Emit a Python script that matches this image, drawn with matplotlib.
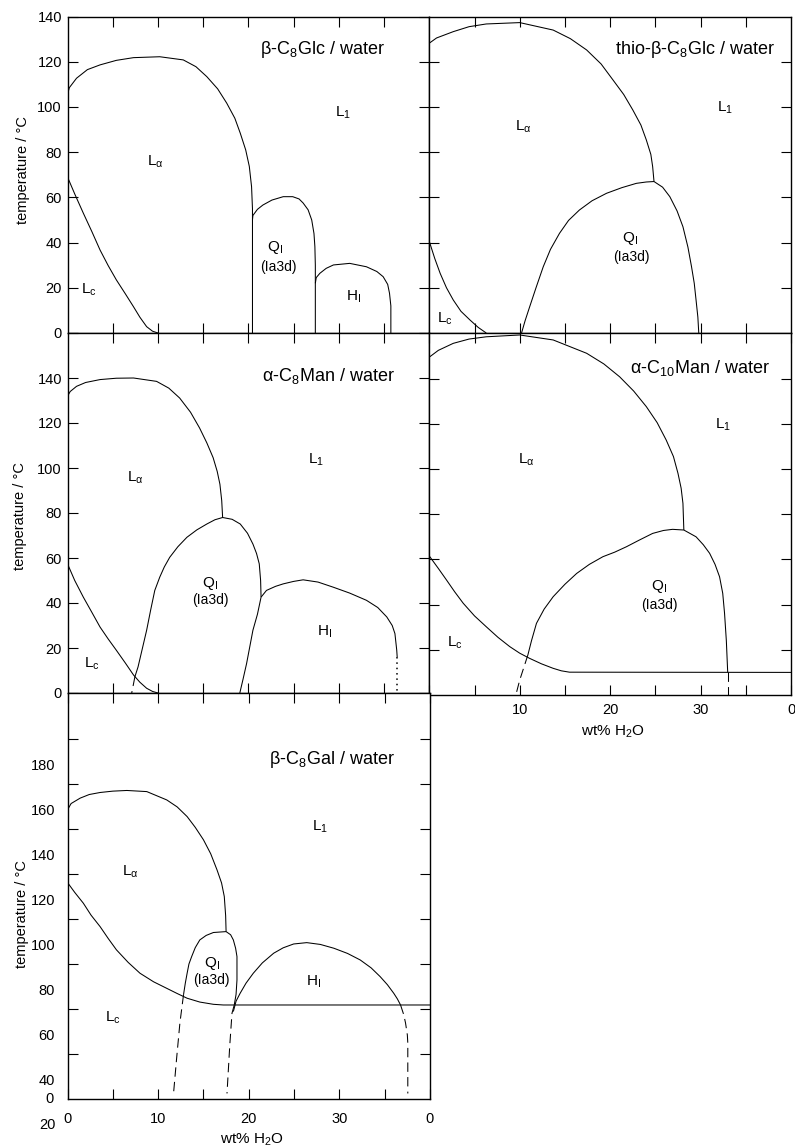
import numpy as np
import matplotlib
matplotlib.use("Agg")
import matplotlib.pyplot as plt
from matplotlib.ticker import FixedLocator, FixedFormatter, NullFormatter

plt.rcParams['font.family'] = ['Liberation Sans', 'DejaVu Sans']
plt.rcParams['mathtext.fontset'] = 'custom'
plt.rcParams['mathtext.rm'] = 'Liberation Sans'
plt.rcParams['mathtext.it'] = 'Liberation Sans:italic'
plt.rcParams['mathtext.bf'] = 'Liberation Sans:bold'

# ---------------- beta-C8Glc / water ----------------
glc_la_x = [0, 0.2, 1.0, 2.2, 3.6, 5.4, 7.3, 10.2, 12.8, 14.2, 15.4, 16.6, 17.6, 18.5, 19.1, 19.7, 20.1, 20.35, 20.45, 20.45]
glc_la_t = [105.5, 108.5, 112.7, 116.5, 118.6, 120.6, 121.8, 122.2, 120.8, 117.8, 113.4, 108, 101.7, 95, 88.4, 81, 73.7, 64.7, 55, 0]
glc_lc_x = [0, 0.8, 1.75, 2.7, 3.6, 4.5, 5.4, 6.4, 7.3, 8.0, 8.75, 9.4, 10.0]
glc_lc_t = [69, 61.5, 53, 44.8, 36.7, 29.8, 23.5, 17.3, 11.6, 7, 2.8, 0.8, 0]
glc_q_x = [20.45, 20.5, 21.0, 21.6, 22.6, 23.85, 24.9, 25.6, 26.05, 26.6, 27.0, 27.25, 27.35, 27.4, 27.4]
glc_q_t = [50, 52, 54.7, 56.6, 58.8, 60.3, 60.3, 59.3, 57.5, 54.5, 50, 44, 38.2, 30, 0]
glc_h_x = [27.4, 27.5, 27.9, 28.6, 29.4, 31.2, 33.05, 34.2, 34.9, 35.4, 35.6, 35.75, 35.75]
glc_h_t = [22, 24.5, 26.4, 28.6, 30.1, 30.8, 29.3, 27.2, 24.9, 21.5, 17.6, 12, 0]

# ---------------- thio-beta-C8Glc / water ----------------
thio_la_x = [0, 0.8, 2.65, 4.4, 6.3, 10.0, 13.7, 15.6, 17.4, 19.0, 20.3, 21.5, 22.5, 23.4, 24.0, 24.5, 24.7, 24.85]
thio_la_t = [128.2, 130.5, 133.3, 135.5, 136.7, 137.3, 134, 130.2, 125.2, 119, 112, 105.5, 98.7, 92, 85.4, 79, 73.6, 67]
thio_q_x = [10.2, 10.6, 11.1, 11.8, 12.6, 13.4, 14.4, 15.4, 16.6, 18.0, 19.6, 21.3, 22.9, 24.0, 24.85,
            25.8, 26.6, 27.4, 28.05, 28.6, 29.0, 29.3, 29.5, 29.7, 29.8]
thio_q_t = [0, 5.5, 11.6, 20, 29.3, 37, 44.1, 49.8, 54.4, 58.5, 61.8, 64.3, 66.2, 66.8, 67,
            64.5, 60.3, 54, 47, 38, 29.3, 22, 14.6, 7, 0]
thio_lc_x = [0, 0.6, 1.2, 1.9, 2.65, 3.5, 4.5, 5.4, 6.3]
thio_lc_t = [40.5, 33, 26.4, 20, 14.6, 9.6, 5.75, 2.5, 0]

# ---------------- alpha-C8Man / water ----------------
man8_la_x = [0, 0.3, 1.0, 2.0, 3.6, 5.4, 7.3, 9.85, 11.2, 12.4, 13.6, 14.6, 15.4, 16.1, 16.55, 16.85, 17.05, 17.15]
man8_la_t = [131.9, 134, 136.3, 138, 139.3, 139.9, 140, 138.5, 135.5, 131.1, 124.8, 117.8, 111.2, 104.6, 98.5, 92.8, 85.5, 78]
man8_q_x = [7.45, 7.8, 8.75, 9.2, 9.65, 10.2, 10.7, 11.3, 12.2, 13.2, 14.3, 15.4, 16.3, 17.15,
            18.2, 19.1, 19.9, 20.5, 20.9, 21.2, 21.35, 21.4]
man8_q_t = [7.2, 11.6, 27.9, 37, 45.6, 51.5, 56, 60.3, 65, 69.2, 72.5, 75.1, 77, 78,
            77.2, 75.1, 71, 66.2, 62, 57.4, 50, 42.6]
man8_qfoot_x = [7.45, 7.1]
man8_qfoot_t = [7.2, 0]
man8_hq_x = [21.4, 21.0, 20.5, 19.8, 19.4, 19.05]
man8_hq_t = [42.6, 35, 27.9, 13.1, 6, 0]
man8_h_x = [21.4, 22.0, 23.0, 23.85, 25.0, 26.05, 27.7, 29.4, 31.2, 33.05, 34.3, 35.3, 35.9, 36.2, 36.4, 36.45]
man8_h_t = [42.6, 45.6, 47.4, 48.5, 49.6, 50.3, 49.3, 47.0, 44.4, 41.2, 38, 33.8, 30, 26.4, 19, 16]
man8_hfoot_x = [36.45, 36.45]
man8_hfoot_t = [16, 0]
man8_lc_x = [0, 0.8, 1.75, 2.7, 3.6, 4.5, 5.4, 6.4, 7.3, 8.0, 8.75, 9.4, 10.0]
man8_lc_t = [57.4, 50, 42.6, 35.8, 29.3, 24, 19, 13.3, 8.0, 4.8, 2.1, 0.7, 0]

# ---------------- alpha-C10Man / water ----------------
man10_la_x = [0, 1.0, 2.65, 4.4, 6.3, 10.0, 13.7, 17.4, 19.3, 21.05, 22.6, 24.0, 25.2, 26.2, 27.0, 27.5, 27.85, 28.05, 28.15]
man10_la_t = [149.5, 152.5, 155.6, 157.5, 158.5, 159.3, 157.1, 151.2, 146.5, 140.8, 134.5, 127.6, 120.5, 112.8, 105.5, 98.1, 91.5, 84.8, 73]
man10_q_x = [10.9, 11.3, 11.85, 12.7, 13.7, 15.0, 16.3, 17.7, 19.2, 20.5, 21.8, 23.2, 24.7, 25.9, 26.9, 28.15,
             29.5, 30.3, 31.0, 31.6, 32.1, 32.45, 32.65, 32.85, 33.0]
man10_q_t = [17.7, 24, 31.7, 38, 43.5, 49, 53.8, 57.8, 61.2, 63.2, 65.6, 68.5, 71.5, 72.8, 73.3, 73,
             70.0, 66.5, 62.7, 57.8, 52.3, 45, 36.2, 24, 10]
man10_qleft_x = [10.9, 10.0, 9.57]
man10_qleft_t = [17.7, 6.6, 0]
man10_qright_x = [33.0, 33.0]
man10_qright_t = [10, 0]
man10_lc_x = [0, 1.0, 1.9, 2.8, 3.75, 5.0, 6.3, 7.6, 8.9, 10.0, 11.1, 12.4, 13.7, 14.6, 15.5, 40]
man10_lc_t = [61.5, 56, 50.9, 45.7, 40.6, 35, 30.2, 25.5, 21.4, 18.5, 16.2, 13.8, 11.8, 10.7, 10.1, 10]

# ---------------- beta-C8Gal / water ----------------
gal_la_x = [0, 0.4, 1.4, 2.4, 3.6, 5.0, 6.55, 8.75, 10.95, 12.1, 13.2, 14.1, 15.0, 15.8, 16.5, 17.0, 17.3, 17.45, 17.5]
gal_la_t = [160, 162.8, 165.2, 166.8, 167.7, 168.3, 168.6, 168.1, 164.4, 161.3, 157, 152.2, 146.7, 140.5, 133.3, 127.5, 121.5, 113, 105.9]
gal_q_x = [12.8, 13.0, 13.2, 13.4, 13.7, 14.1, 14.6, 15.3, 16.1, 17.5, 18.0, 18.3, 18.55, 18.7, 18.7, 18.6, 18.4]
gal_q_t = [77.8, 83, 87.4, 91.5, 94.8, 98.8, 102.2, 104.2, 105.5, 105.9, 104.5, 102.2, 98.5, 94.8, 84.4, 78, 73.3]
gal_qleft_x = [12.8, 12.4, 12.05, 11.7]
gal_qleft_t = [77.8, 65.2, 50, 34]
gal_qright_x = [18.4, 18.15, 17.9, 17.6]
gal_qright_t = [73.3, 69.6, 55, 34]
gal_lc_x = [0, 0.8, 1.75, 2.6, 3.6, 4.5, 5.4, 6.7, 8.0, 9.5, 10.95, 12.1, 13.2, 14.6, 16.1, 17.2, 18.1, 40]
gal_lc_t = [127.7, 123.3, 118.5, 113.2, 108.1, 102.8, 97.8, 92.2, 87.4, 83.6, 80.7, 78.4, 76.3, 74.6, 73.6, 73.3, 73.3, 73.3]
gal_h_x = [18.3, 18.6, 19.05, 19.7, 20.5, 21.5, 22.75, 23.8, 24.95, 26.4, 27.9, 29.4, 30.9, 32.3, 33.5, 34.5, 35.3, 36.0, 36.4, 36.75]
gal_h_t = [70.4, 75, 78.5, 83, 87.4, 92, 96.3, 98.7, 100.4, 101, 100.2, 98.5, 96.2, 93.3, 89.8, 85.9, 82.3, 78.5, 76, 73.3]
gal_hright_x = [36.75, 37.1, 37.3, 37.5, 37.55, 37.55]
gal_hright_t = [73.3, 69, 65.3, 60, 56.4, 34]

# tick labels
temp_labels_140 = [0, 20, 40, 60, 80, 100, 120, 140]
temp_labels_gal = [40, 60, 80, 100, 120, 140, 160, 180]
wt_ticks = [0, 5, 10, 15, 20, 25, 30, 35, 40]
wt_labels_man10 = ["", "", "10", "", "20", "", "30", "", "0"]
wt_labels_gal = ["0", "", "10", "", "20", "", "30", "", "0"]

W, H = 795, 1148
fig = plt.figure(figsize=(W / 100, H / 100), dpi=100)


def place(l, r, t, b):
    return [l / W, 1 - b / H, (r - l) / W, (b - t) / H]


LW = 0.75
FRAME = 1.0


def frame(ax, ymax, ymin=0, yticks=None):
    ax.set_xlim(0, 40)
    ax.set_ylim(ymin, ymax)
    for s in ax.spines.values():
        s.set_linewidth(FRAME)
    ax.xaxis.set_major_locator(FixedLocator(np.arange(5, 40, 5)))
    if yticks is not None:
        ax.yaxis.set_major_locator(FixedLocator(yticks))
    ax.tick_params(which='both', direction='in', length=7, width=0.8,
                   top=True, right=True, labelsize=10.5)
    ax.xaxis.set_major_formatter(NullFormatter())
    ax.yaxis.set_major_formatter(NullFormatter())


def wt_axis_labels(ax, labels, pad):
    ax.xaxis.set_major_locator(FixedLocator(wt_ticks))
    ax.xaxis.set_major_formatter(FixedFormatter(labels))
    ax.tick_params(axis='x', pad=pad)


def curve(ax, x, t, **kw):
    style = dict(color='black', lw=LW)
    style.update(kw)
    ax.plot(x, t, solid_capstyle='butt', **style)


def dashed(ax, x, t):
    curve(ax, x, t, ls=(0, (9, 5)))


def phase(ax, x, t, s, size=11):
    ax.text(x, t, s, ha='center', va='center', fontsize=size)


def title(ax, x, t, s):
    ax.text(x, t, s, ha='center', va='center', fontsize=13)


def temp_axis_labels(ax, values, pad):
    ax.set_yticks(values)
    ax.set_yticklabels([str(v) for v in values])
    ax.tick_params(axis='y', pad=pad)


# ---- Panel: beta-C8Glc ----
ax1 = fig.add_axes(place(67.5, 429.3, 16.5, 333))
frame(ax1, 140, yticks=np.arange(20, 141, 20))
temp_axis_labels(ax1, temp_labels_140, 4)
curve(ax1, glc_la_x, glc_la_t)
curve(ax1, glc_lc_x, glc_lc_t)
curve(ax1, glc_q_x, glc_q_t)
curve(ax1, glc_h_x, glc_h_t)
title(ax1, 28.2, 125.2, r"β-C$_8$Glc / water")
phase(ax1, 30.5, 97.3, r"L$_\mathrm{1}$")
phase(ax1, 9.7, 75.7, r"L$_\mathrm{\alpha}$")
phase(ax1, 2.4, 19, r"L$_\mathrm{c}$")
phase(ax1, 22.9, 37.6, r"Q$_\mathrm{I}$")
phase(ax1, 23.3, 29.2, "(Ia3d)", 10)
phase(ax1, 31.6, 16, r"H$_\mathrm{I}$")

# ---- Panel: thio-beta-C8Glc ----
ax2 = fig.add_axes(place(429.3, 791, 16.5, 333))
frame(ax2, 140, yticks=np.arange(20, 140, 20))
curve(ax2, thio_la_x, thio_la_t)
curve(ax2, thio_q_x, thio_q_t)
curve(ax2, thio_lc_x, thio_lc_t)
title(ax2, 29.4, 125.2, r"thio-β-C$_8$Glc / water")
phase(ax2, 32.7, 99.5, r"L$_\mathrm{1}$")
phase(ax2, 10.35, 91, r"L$_\mathrm{\alpha}$")
phase(ax2, 22.2, 42, r"Q$_\mathrm{I}$")
phase(ax2, 22.4, 33.8, "(Ia3d)", 10)
phase(ax2, 1.75, 6.2, r"L$_\mathrm{c}$")

# ---- Panel: alpha-C8Man ----
ax3 = fig.add_axes(place(67.5, 429.3, 333, 693))
frame(ax3, 160, yticks=np.arange(20, 161, 20))
temp_axis_labels(ax3, temp_labels_140, 4)
ax3.set_yticks(np.arange(20, 161, 20), minor=True)
curve(ax3, man8_la_x, man8_la_t)
curve(ax3, man8_q_x, man8_q_t)
dashed(ax3, man8_qfoot_x, man8_qfoot_t)
curve(ax3, man8_hq_x, man8_hq_t)
curve(ax3, man8_h_x, man8_h_t)
curve(ax3, man8_hfoot_x, man8_hfoot_t, ls=(0, (1, 2.5)), lw=1.1)
curve(ax3, man8_lc_x, man8_lc_t)
title(ax3, 28.8, 140.7, r"α-C$_8$Man / water")
phase(ax3, 27.5, 103.8, r"L$_\mathrm{1}$")
phase(ax3, 7.45, 95.7, r"L$_\mathrm{\alpha}$")
phase(ax3, 15.75, 48.5, r"Q$_\mathrm{I}$")
phase(ax3, 15.75, 41.2, "(Ia3d)", 10)
phase(ax3, 28.45, 27.1, r"H$_\mathrm{I}$")
phase(ax3, 2.7, 13.1, r"L$_\mathrm{c}$")

# ---- Panel: alpha-C10Man ----
ax4 = fig.add_axes(place(429.3, 791, 333.4, 695))
frame(ax4, 160, yticks=np.arange(20, 160, 20))
wt_axis_labels(ax4, wt_labels_man10, 6)
curve(ax4, man10_la_x, man10_la_t)
curve(ax4, man10_q_x, man10_q_t)
dashed(ax4, man10_qleft_x, man10_qleft_t)
dashed(ax4, man10_qright_x, man10_qright_t)
curve(ax4, man10_lc_x, man10_lc_t)
title(ax4, 29.9, 144.5, r"α-C$_{10}$Man / water")
phase(ax4, 32.45, 119.5, r"L$_\mathrm{1}$")
phase(ax4, 10.75, 104, r"L$_\mathrm{\alpha}$")
phase(ax4, 25.45, 48, r"Q$_\mathrm{I}$")
phase(ax4, 25.45, 39.8, "(Ia3d)", 10)
phase(ax4, 2.85, 22.9, r"L$_\mathrm{c}$")
fig.text(613 / W, 1 - 732 / H, r"wt% H$_2$O", ha='center', va='center', fontsize=11)

# ---- Panel: beta-C8Gal ----
ax5 = fig.add_axes(place(67.5, 430, 693, 1099.3))
frame(ax5, 211.9, ymin=31.4)
ax5.yaxis.set_major_locator(FixedLocator(temp_labels_gal))
ax5.yaxis.set_major_formatter(FixedFormatter([str(v) for v in temp_labels_gal]))
ax5.tick_params(axis='y', which='major', length=0, pad=9)
ax5.set_yticks(np.arange(40, 200, 20) + 11.5, minor=True)
ax5.tick_params(axis='y', which='minor', direction='in', length=7, width=0.8, left=True, right=True)
wt_axis_labels(ax5, wt_labels_gal, 9)
curve(ax5, gal_la_x, gal_la_t)
curve(ax5, gal_q_x, gal_q_t)
dashed(ax5, gal_qleft_x, gal_qleft_t)
dashed(ax5, gal_qright_x, gal_qright_t)
curve(ax5, gal_lc_x, gal_lc_t)
curve(ax5, gal_h_x, gal_h_t)
dashed(ax5, gal_hright_x, gal_hright_t)
title(ax5, 29.2, 182.2, r"β-C$_8$Gal / water")
phase(ax5, 27.9, 152.6, r"L$_\mathrm{1}$")
phase(ax5, 6.9, 132.6, r"L$_\mathrm{\alpha}$")
phase(ax5, 15.9, 91.9, r"Q$_\mathrm{I}$")
phase(ax5, 15.9, 84.4, "(Ia3d)", 10)
phase(ax5, 27.2, 83.7, r"H$_\mathrm{I}$")
phase(ax5, 5.05, 67.4, r"L$_\mathrm{c}$")
fig.text(50 / W, 1 - 1099 / H, "0", ha='center', va='center', fontsize=10.5)
fig.text(47 / W, 1 - 1125 / H, "20", ha='center', va='center', fontsize=10.5)
fig.text(252 / W, 1 - 1140 / H, r"wt% H$_2$O", ha='center', va='center', fontsize=11)

# temperature axis titles
for xp, yp in [(23, 170), (20, 516), (22, 914)]:
    fig.text(xp / W, 1 - yp / H, "temperature / °C", rotation=90,
             ha='center', va='center', fontsize=10.5)

fig.savefig("out.png", dpi=100, facecolor='white')
